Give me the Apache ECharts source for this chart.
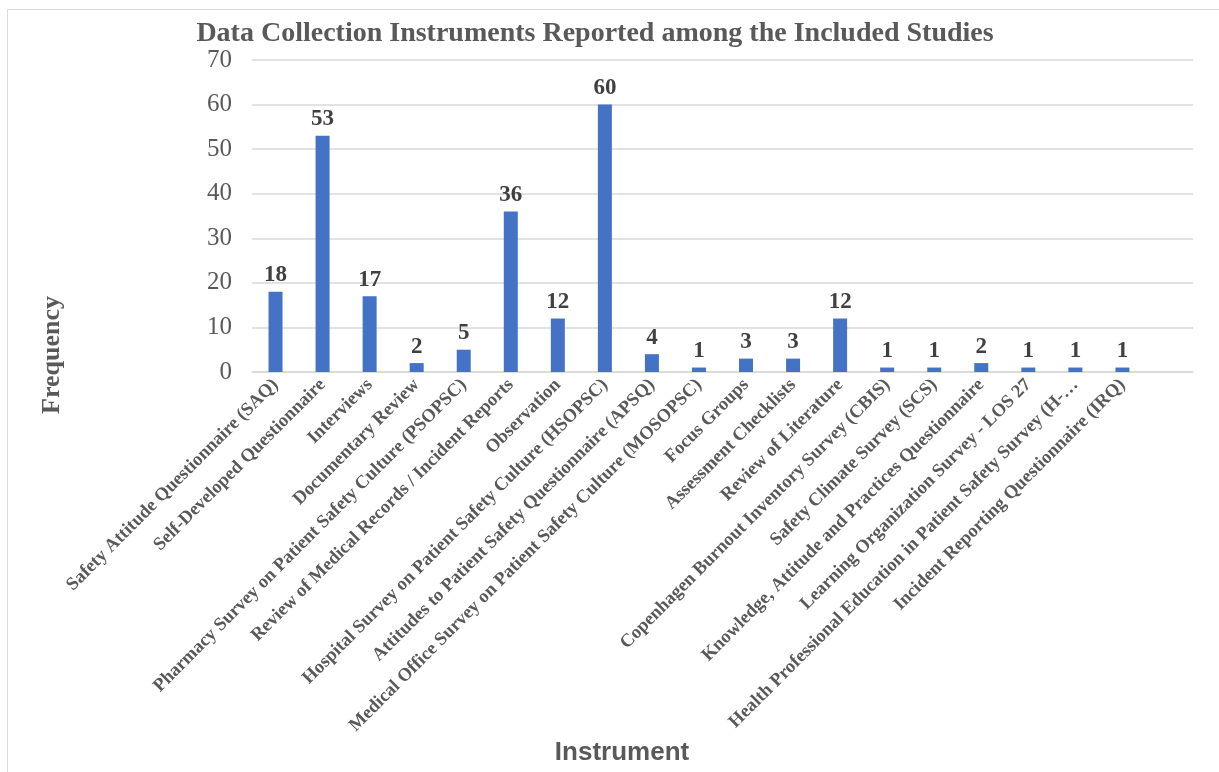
<!DOCTYPE html>
<html><head><meta charset="utf-8">
<script src="https://cdn.jsdelivr.net/npm/echarts@6/dist/echarts.min.js"></script>
<style>html,body{margin:0;padding:0;background:#fff}#c{width:1219px;height:772px}</style>
</head><body><div id="c"></div>
<script>
const categories = [
  "Safety Attitude Questionnaire (SAQ)",
  "Self-Developed Questionnaire",
  "Interviews",
  "Documentary Review",
  "Pharmacy Survey on Patient Safety Culture (PSOPSC)",
  "Review of Medical Records / Incident Reports",
  "Observation",
  "Hospital Survey on Patient Safety Culture (HSOPSC)",
  "Attitudes to Patient Safety Questionnaire (APSQ)",
  "Medical Office Survey on Patient Safety Culture (MOSOPSC)",
  "Focus Groups",
  "Assessment Checklists",
  "Review of Literature",
  "Copenhagen Burnout Inventory Survey (CBIS)",
  "Safety Climate Survey (SCS)",
  "Knowledge, Attitude and Practices Questionnaire",
  "Learning Organization Survey - LOS 27",
  "Health Professional Education in Patient Safety Survey (H-…",
  "Incident Reporting Questionnaire (IRQ)",
  ""
];
const frequency = [18, 53, 17, 2, 5, 36, 12, 60, 4, 1, 3, 3, 12, 1, 1, 2, 1, 1, 1, null];
const yTicks = [0, 10, 20, 30, 40, 50, 60, 70];

const chart = echarts.init(document.getElementById('c'));
chart.setOption({
  animation: false,
  backgroundColor: '#fff',
  graphic: [
    {type: 'rect', shape: {x: 7.5, y: 9.5, width: 1230, height: 800},
     style: {fill: 'none', stroke: '#d9d9d9', lineWidth: 1}, silent: true, z: -1},
    {type: 'text', x: 52, y: 355, rotation: Math.PI / 2,
     style: {text: 'Frequency', fontFamily: 'Liberation Serif', fontWeight: 'bold', fontSize: 26,
             fill: '#595959', align: 'center', verticalAlign: 'middle'}},
    {type: 'text', x: 622, y: 753,
     style: {text: 'Instrument', fontFamily: 'Liberation Sans', fontWeight: 'bold', fontSize: 26,
             fill: '#595959', align: 'center', verticalAlign: 'middle'}}
  ],
  title: {
    text: 'Data Collection Instruments Reported among the Included Studies',
    left: 590, top: 15, textAlign: 'center',
    textStyle: {fontFamily: 'Liberation Serif', fontWeight: 'bold', fontSize: 28, color: '#595959'}
  },
  grid: {left: 252, right: 26, top: 60, bottom: 400, containLabel: false},
  xAxis: {
    type: 'category', data: categories,
    axisLine: {lineStyle: {color: '#d9d9d9', width: 1.5}},
    axisTick: {show: false},
    axisLabel: {
      interval: 0, rotate: 45, margin: 10,
      fontFamily: 'Liberation Serif', fontWeight: 'bold', fontSize: 18.5, color: '#595959'
    }
  },
  yAxis: {
    type: 'value', min: yTicks[0], max: yTicks[yTicks.length - 1], interval: 10,
    axisLine: {show: false}, axisTick: {show: false},
    axisLabel: {fontFamily: 'Liberation Serif', fontSize: 25, color: '#595959', margin: 20},
    splitLine: {lineStyle: {color: '#d9d9d9', width: 1.5}}
  },
  series: [{
    type: 'bar', data: frequency, barWidth: 14,
    itemStyle: {color: '#4472c4'},
    label: {
      show: true, position: 'top', distance: 5,
      fontFamily: 'Liberation Serif', fontWeight: 'bold', fontSize: 23, color: '#404040'
    }
  }]
});
</script></body></html>
